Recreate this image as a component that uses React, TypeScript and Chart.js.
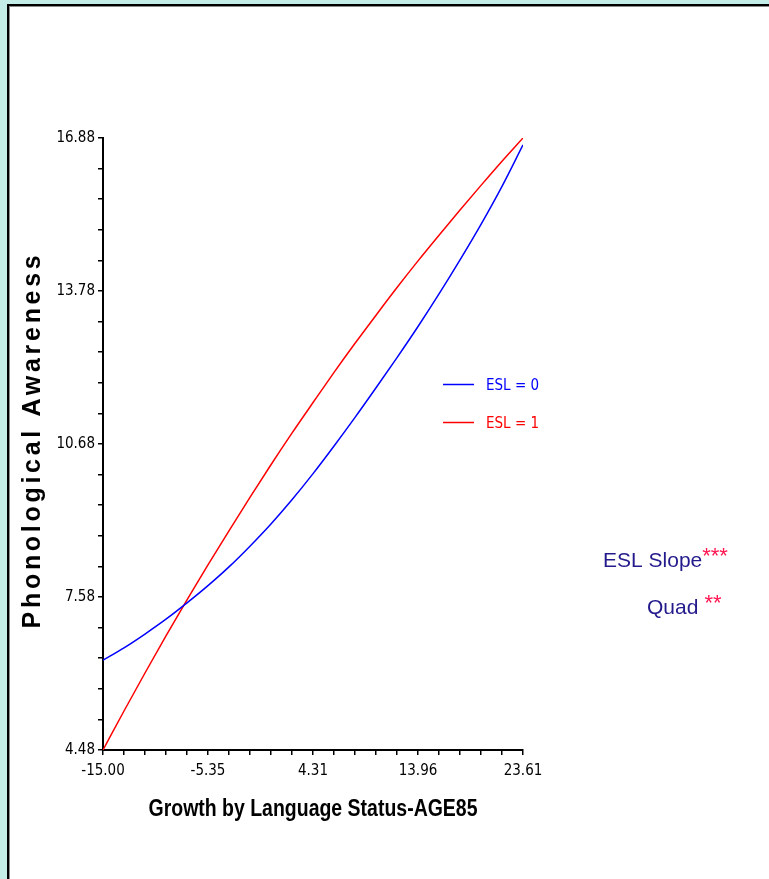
import React, { useEffect, useRef } from 'react';
import { Chart, registerables } from 'chart.js';

Chart.register(...registerables);

// ---- data ----
const xValues = [-15.0, -13.07, -11.14, -9.21, -7.28, -5.35, -3.42, -1.49, 0.44, 2.37, 4.31, 6.24, 8.17, 10.1, 12.03, 13.96, 15.89, 17.82, 19.75, 21.68, 23.61];
const esl0 = [6.30, 6.55, 6.83, 7.13, 7.46, 7.81, 8.19, 8.61, 9.06, 9.55, 10.08, 10.64, 11.22, 11.82, 12.43, 13.06, 13.72, 14.41, 15.13, 15.90, 16.74];
const esl1 = [4.48, 5.27, 6.04, 6.79, 7.52, 8.23, 8.92, 9.60, 10.26, 10.90, 11.52, 12.13, 12.72, 13.29, 13.85, 14.39, 14.91, 15.42, 15.92, 16.41, 16.88];
const seriesLabels = ['ESL = 0', 'ESL = 1'];
const seriesColors = ['#0000ff', '#ff0000'];
const xTickLabels = ['-15.00', '-5.35', '4.31', '13.96', '23.61'];
const yTickLabels = ['4.48', '7.58', '10.68', '13.78', '16.88'];
const xMin = -15.0;
const xMax = 23.61;
const yMin = 4.48;
const yMax = 16.88;
const minorPerAxis = 20;
const xTitle = 'Growth by Language Status-AGE85';
const yTitle = 'Phonological Awareness';
const noteLines = [
  { text: 'ESL Slope', stars: '***' },
  { text: 'Quad', stars: ' **' },
];

const NARROW = "'Liberation Sans Narrow', 'DejaVu Sans Condensed', 'Arial Narrow', sans-serif";
const SANS = "'Liberation Sans', Arial, Helvetica, sans-serif";

const yTitlePlugin = {
  id: 'yTitleSpaced',
  afterDraw(chart: any) {
    const ctx = chart.ctx as CanvasRenderingContext2D;
    const { top, bottom } = chart.chartArea;
    ctx.save();
    ctx.translate(40, (top + bottom) / 2 - 4);
    ctx.rotate(-Math.PI / 2);
    ctx.font = `bold 25px ${SANS}`;
    (ctx as any).letterSpacing = '3.7px';
    ctx.fillStyle = '#000';
    ctx.textAlign = 'center';
    ctx.textBaseline = 'alphabetic';
    ctx.fillText(yTitle, 0, 0);
    ctx.restore();
  },
};

const xTitlePlugin = {
  id: 'xTitleNarrow',
  afterDraw(chart: any) {
    const ctx = chart.ctx as CanvasRenderingContext2D;
    const { left, right } = chart.chartArea;
    ctx.save();
    ctx.font = `bold 23px ${SANS}`;
    const w = ctx.measureText(xTitle).width;
    const sx = 329 / w;
    ctx.translate((left + right) / 2, 816);
    ctx.scale(sx, 1);
    ctx.fillStyle = '#000';
    ctx.textAlign = 'center';
    ctx.textBaseline = 'alphabetic';
    ctx.fillText(xTitle, 0, 0);
    ctx.restore();
  },
};

const legendPlugin = {
  id: 'insideLegend',
  afterDraw(chart: any) {
    const ctx = chart.ctx as CanvasRenderingContext2D;
    ctx.save();
    chart.data.datasets.forEach((ds: any, i: number) => {
      const ly = 384.5 + i * 38;
      ctx.strokeStyle = ds.borderColor;
      ctx.lineWidth = 1.5;
      ctx.beginPath();
      ctx.moveTo(443, ly);
      ctx.lineTo(474, ly);
      ctx.stroke();
      ctx.fillStyle = ds.borderColor;
      ctx.font = `15px ${NARROW}`;
      ctx.textAlign = 'left';
      ctx.textBaseline = 'middle';
      ctx.fillText(ds.label, 486, ly + 2);
    });
    ctx.restore();
  },
};

const notesPlugin = {
  id: 'notes',
  afterDraw(chart: any) {
    const ctx = chart.ctx as CanvasRenderingContext2D;
    ctx.save();
    const pos = [
      { x: 603, y: 567 },
      { x: 647, y: 614 },
    ];
    noteLines.forEach((n, i) => {
      ctx.font = `21px ${SANS}`;
      ctx.fillStyle = '#231a8c';
      ctx.textAlign = 'left';
      ctx.textBaseline = 'alphabetic';
      ctx.fillText(n.text, pos[i].x, pos[i].y);
      const w = ctx.measureText(n.text).width;
      ctx.font = `22px ${SANS}`;
      ctx.fillStyle = '#ff1450';
      ctx.fillText(n.stars, pos[i].x + w, pos[i].y - 4);
    });
    ctx.restore();
  },
};

function evenTicks(min: number, max: number) {
  const out: { value: number }[] = [];
  for (let i = 0; i <= minorPerAxis; i++) out.push({ value: min + (i * (max - min)) / minorPerAxis });
  return out;
}

export default function App() {
  const ref = useRef<HTMLCanvasElement | null>(null);

  useEffect(() => {
    if (!ref.current) return;
    const axisGrid = {
      display: true,
      drawOnChartArea: false,
      drawTicks: true,
      tickLength: 5,
      color: '#000',
      lineWidth: 1.5,
    };
    const chart = new Chart(ref.current, {
      type: 'line',
      data: {
        datasets: [esl0, esl1].map((vals, i) => ({
          label: seriesLabels[i],
          data: vals.map((v, j) => ({ x: xValues[j], y: v })),
          borderColor: seriesColors[i],
          backgroundColor: seriesColors[i],
          borderWidth: 1.5,
          pointRadius: 0,
          fill: false,
          cubicInterpolationMode: 'monotone' as const,
        })),
      },
      options: {
        responsive: false,
        animation: false,
        devicePixelRatio: 1,
        layout: { padding: { left: 0, top: 138, right: 246, bottom: 0 } },
        plugins: {
          legend: { display: false },
          tooltip: { enabled: false },
          title: { display: false },
        },
        scales: {
          x: {
            type: 'linear',
            min: xMin,
            max: xMax,
            afterBuildTicks: (s: any) => {
              s.ticks = evenTicks(xMin, xMax);
            },
            afterFit: (s: any) => {
              s.height = 129;
            },
            border: { display: true, color: '#000', width: 2 },
            grid: axisGrid,
            ticks: {
              autoSkip: false,
              maxRotation: 0,
              minRotation: 0,
              padding: 7,
              color: '#000',
              font: { family: NARROW, size: 15 },
              callback: (_v: any, i: number) => (i % 5 === 0 ? xTickLabels[i / 5] : ''),
            },
          },
          y: {
            type: 'linear',
            min: yMin,
            max: yMax,
            afterBuildTicks: (s: any) => {
              s.ticks = evenTicks(yMin, yMax);
            },
            afterFit: (s: any) => {
              s.width = 103;
            },
            border: { display: true, color: '#000', width: 2 },
            grid: axisGrid,
            ticks: {
              autoSkip: false,
              padding: 3,
              color: '#000',
              font: { family: NARROW, size: 15 },
              callback: (_v: any, i: number) => (i % 5 === 0 ? yTickLabels[i / 5] : ''),
            },
          },
        },
      },
      plugins: [yTitlePlugin, xTitlePlugin, legendPlugin, notesPlugin],
    } as any);
    return () => chart.destroy();
  }, []);

  return (
    <div
      style={{
        position: 'fixed',
        left: 0,
        top: 0,
        width: 769,
        height: 879,
        overflow: 'hidden',
        background: '#c3ede6',
      }}
    >
      <div
        style={{
          position: 'absolute',
          left: 7,
          top: 4,
          width: 800,
          height: 900,
          background: '#fff',
          borderLeft: '2px solid #000',
          borderTop: '2px solid #000',
          boxShadow: 'inset 1px 1px 0 #8c8c8c',
        }}
      />
      <canvas
        ref={ref}
        width={769}
        height={879}
        style={{ position: 'absolute', left: 0, top: 0, width: 769, height: 879 }}
      />
    </div>
  );
}
